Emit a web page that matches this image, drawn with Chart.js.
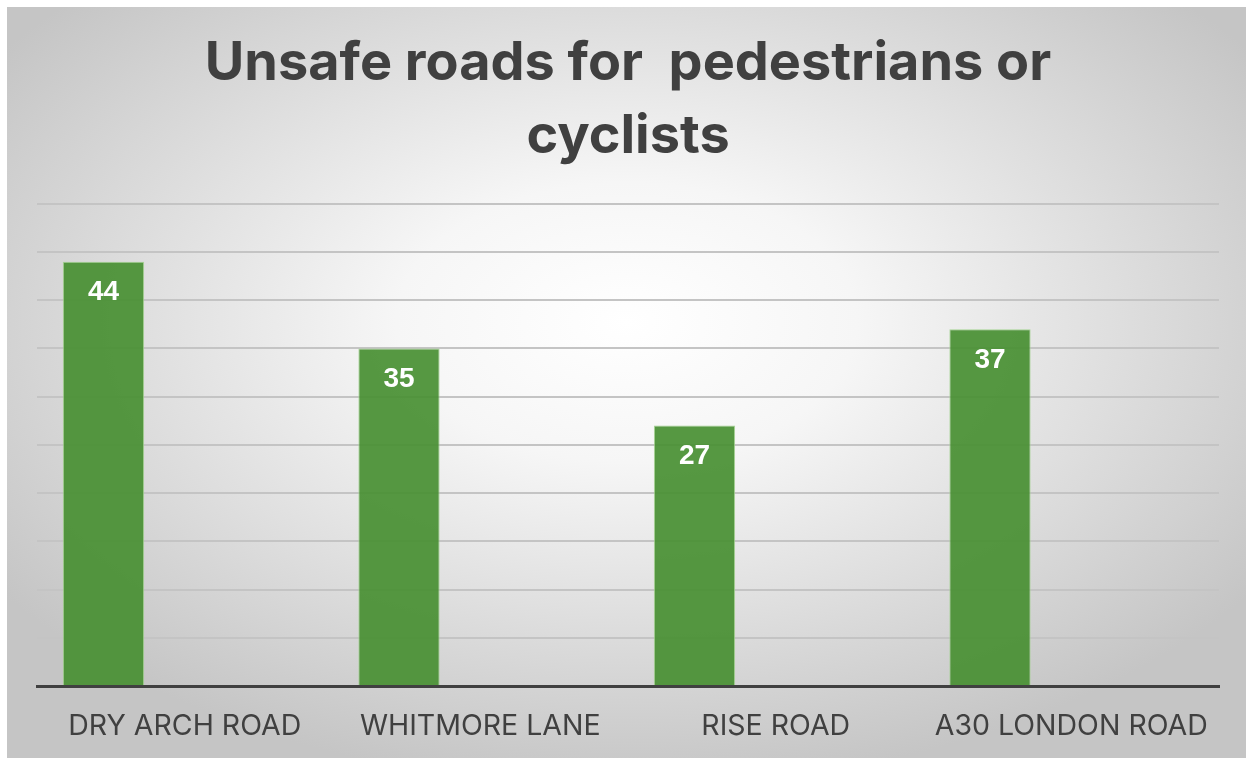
<!DOCTYPE html>
<html>
<head>
<meta charset="utf-8">
<script src="https://cdn.jsdelivr.net/npm/chart.js@4/dist/chart.umd.min.js"></script>
<style>
  html, body { margin: 0; padding: 0; background: #ffffff; }
  #wrap { width: 1246px; height: 758px; }
</style>
</head>
<body>
<div id="wrap"><canvas id="c" width="1246" height="758"></canvas></div>
<script>
// Roads reported as unsafe, with number of responses per road
const roads = ['DRY ARCH ROAD', 'WHITMORE LANE', 'RISE ROAD', 'A30 LONDON ROAD'];
const responses = [44, 35, 27, 37];
// second (empty) series slot in each group
const emptySeries = [null, null, null, null];
const yMin = 0;
const yMax = 50;
const yStep = 5;
const titleLines = ['Unsafe roads for  pedestrians or', 'cyclists'];

// Soft radial grey backdrop behind the whole chart
const backdrop = {
  id: 'backdrop',
  beforeDraw(chart) {
    const ctx = chart.ctx;
    const W = chart.width, H = chart.height;
    ctx.save();
    ctx.fillStyle = '#ffffff';
    ctx.fillRect(0, 0, W, H);
    const x0 = 7, y0 = 7, w = W - x0, h = H - y0;
    const cx = x0 + w / 2, cy = y0 + h * 0.42;
    ctx.beginPath();
    ctx.rect(x0, y0, w, h);
    ctx.clip();
    ctx.translate(cx, cy);
    ctx.scale(1, h / w);
    const r = w * 0.62;
    const g = ctx.createRadialGradient(0, 0, 0, 0, 0, r);
    g.addColorStop(0, '#ffffff');
    g.addColorStop(0.3, '#f6f6f6');
    g.addColorStop(1, '#c5c5c5');
    ctx.fillStyle = g;
    ctx.fillRect(-w, -w * 1.5, w * 2, w * 3);
    ctx.restore();
  }
};

// White value labels inside the top of each bar
const valueLabels = {
  id: 'valueLabels',
  afterDatasetsDraw(chart) {
    const ctx = chart.ctx;
    const meta = chart.getDatasetMeta(0);
    ctx.save();
    ctx.fillStyle = '#ffffff';
    ctx.font = 'bold 28px "Liberation Sans", Arial, sans-serif';
    ctx.textAlign = 'center';
    ctx.textBaseline = 'middle';
    meta.data.forEach((bar, i) => {
      ctx.fillText(String(responses[i]), bar.x, bar.y + 31);
    });
    ctx.restore();
  }
};

new Chart(document.getElementById('c'), {
  type: 'bar',
  data: {
    labels: roads,
    datasets: [
      {
        data: responses,
        backgroundColor: 'rgba(72, 143, 50, 0.92)',
        borderColor: 'rgba(160, 210, 140, 0.9)',
        borderWidth: 1,
        barPercentage: 0.5,
        categoryPercentage: 1.1
      },
      {
        data: emptySeries,
        backgroundColor: 'rgba(0,0,0,0)',
        barPercentage: 0.5,
        categoryPercentage: 1.1
      }
    ]
  },
  options: {
    responsive: false,
    animation: false,
    layout: { padding: { left: 37, right: 27, top: 27, bottom: 0 } },
    plugins: {
      legend: { display: false },
      tooltip: { enabled: false },
      title: {
        display: true,
        text: titleLines,
        color: '#404040',
        font: { family: 'Inter, "Liberation Sans", sans-serif', size: 54, weight: 'bold', lineHeight: 1.35 },
        padding: { top: 0, bottom: 31 }
      }
    },
    scales: {
      x: {
        grid: { display: false, drawTicks: false },
        border: { display: true, color: '#404040', width: 3 },
        ticks: {
          color: '#404040',
          font: { family: 'Inter, "Liberation Sans", sans-serif', size: 28.5 },
          padding: 23,
          maxRotation: 0,
          autoSkip: false
        },
        afterFit(scale) { scale.height = 72; }
      },
      y: {
        min: yMin,
        max: yMax,
        ticks: { stepSize: yStep, display: false },
        grid: { color: '#c4c4c4', lineWidth: 2, drawTicks: false },
        border: { display: false }
      }
    }
  },
  plugins: [backdrop, valueLabels]
});
</script>
</body>
</html>
